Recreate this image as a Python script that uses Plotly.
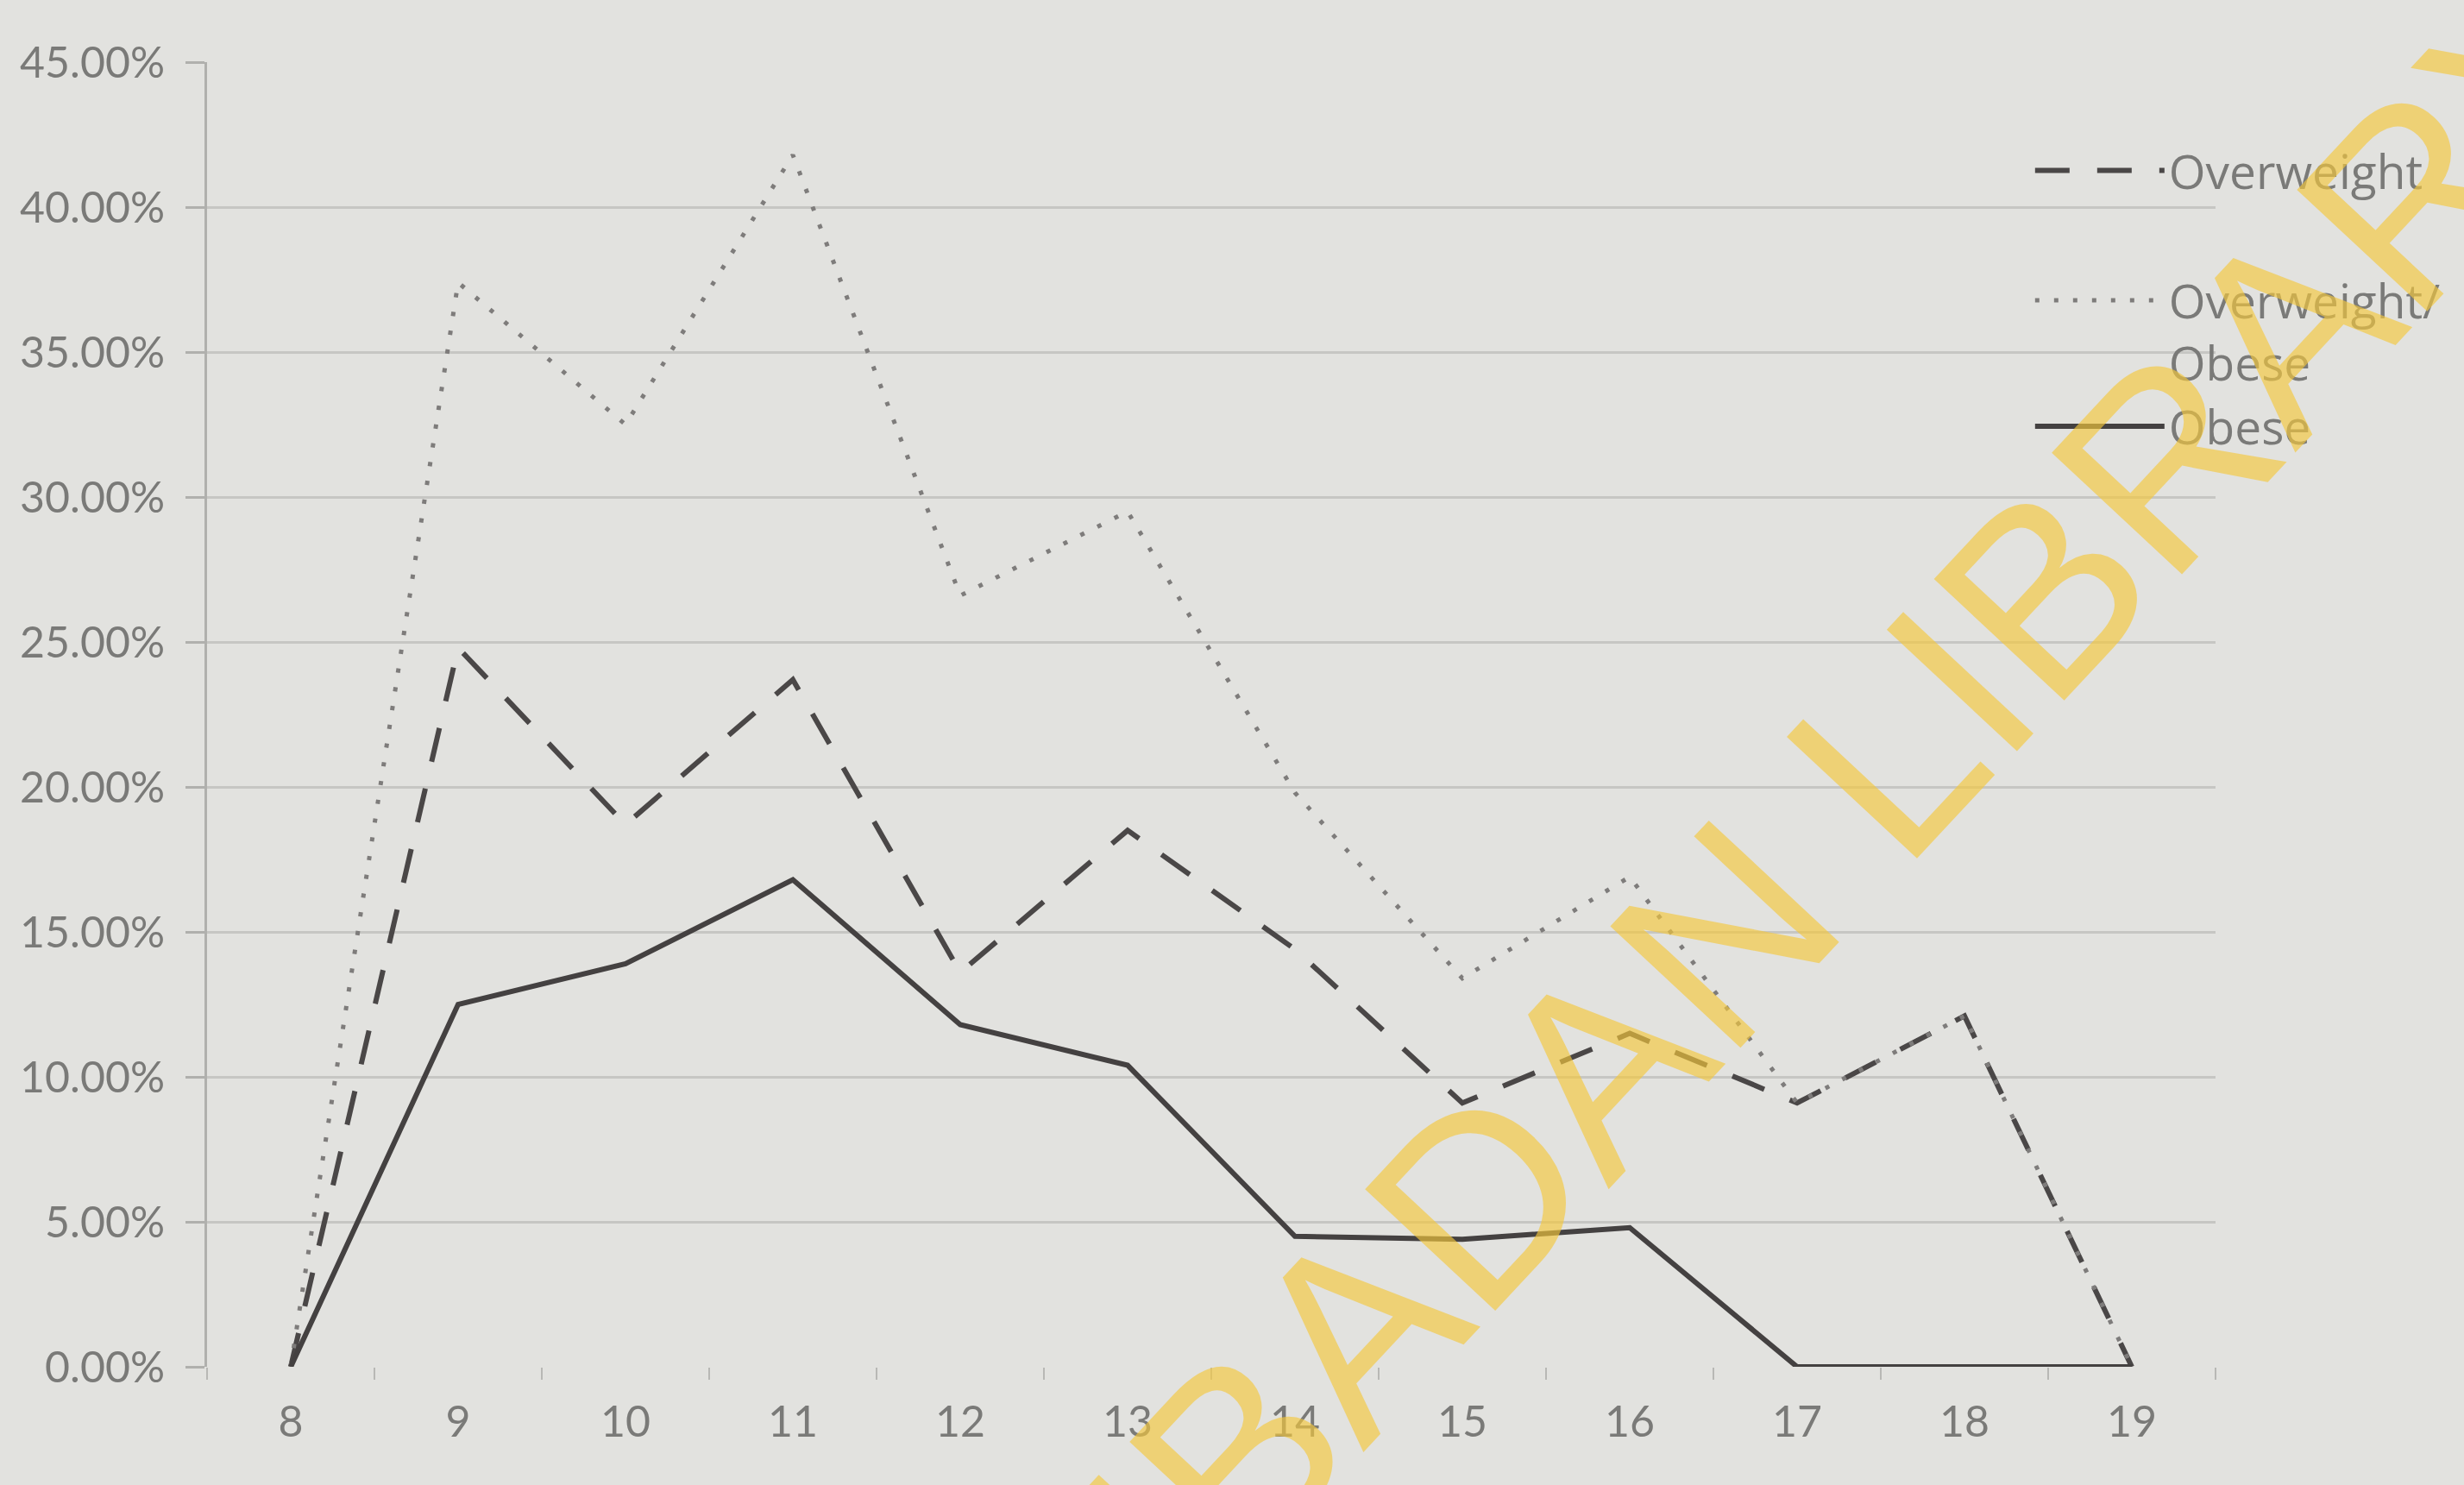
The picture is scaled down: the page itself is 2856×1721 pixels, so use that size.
import plotly.graph_objects as go

ages = [8, 9, 10, 11, 12, 13, 14, 15, 16, 17, 18, 19]
overweight = [0.0, 24.8, 18.7, 23.7, 13.6, 18.5, 14.4, 9.1, 11.5, 9.1, 12.1, 0.0]
overweight_obese = [0.0, 37.4, 32.5, 41.8, 26.6, 29.5, 19.8, 13.4, 16.9, 9.1, 12.1, 0.0]
obese = [0.0, 12.5, 13.9, 16.8, 11.8, 10.4, 4.5, 4.4, 4.8, 0.0, 0.0, 0.0]
y_ticks = [0, 5, 10, 15, 20, 25, 30, 35, 40, 45]
y_tick_labels = ["0.00%", "5.00%", "10.00%", "15.00%", "20.00%", "25.00%",
                 "30.00%", "35.00%", "40.00%", "45.00%"]

FONT = "Lato"
TXT = "#7a7a78"
BG = "#e2e2df"

fig = go.Figure()
fig.add_trace(go.Scatter(
    x=ages, y=overweight, mode="lines", name="Overweight", legendgroup="a",
    line=dict(color="#4a4747", width=6, dash="40px,32px")))
fig.add_trace(go.Scatter(
    x=ages, y=overweight_obese, mode="lines", name="Overweight/<br>Obese", legendgroup="b",
    line=dict(color="#7e7c7b", width=5, dash="5px,17px")))
fig.add_trace(go.Scatter(
    x=ages, y=obese, mode="lines", name="Obese", legendgroup="b",
    line=dict(color="#444141", width=6)))

fig.update_layout(
    width=2856, height=1721,
    margin=dict(l=240, r=288, t=72, b=137),
    paper_bgcolor=BG, plot_bgcolor=BG,
    font=dict(family=FONT, size=50, color=TXT),
    showlegend=True,
    legend=dict(x=0.908, y=0.945, xanchor="left", yanchor="top",
                bgcolor="rgba(0,0,0,0)", itemwidth=150, valign="top",
                tracegroupgap=76,
                font=dict(family="Open Sans", size=55, color=TXT)),
)
fig.update_xaxes(
    range=[7.5, 19.5], tickvals=ages, ticktext=[str(a) for a in ages],
    ticks="", showgrid=False, zeroline=False, showline=False,
    ticklabelstandoff=30,
    minor=dict(tickmode="linear", tick0=7.5, dtick=1, ticks="outside",
               ticklen=14, tickwidth=2, tickcolor="#b8b8b5", showgrid=False),
)
fig.update_yaxes(
    range=[0, 45], tickvals=y_ticks, ticktext=y_tick_labels,
    showgrid=True, gridcolor="#c6c6c3", gridwidth=3,
    zeroline=False, showline=True, linecolor="#b0b0ad", linewidth=3,
    ticks="outside", ticklen=22, tickwidth=3, tickcolor="#b0b0ad",
    ticklabelstandoff=14,
)

fig.add_annotation(
    text="IBADAN LIBRARY", xref="paper", yref="paper",
    x=0.823, y=0.444, xanchor="center", yanchor="middle",
    textangle=-47, showarrow=False,
    font=dict(family="Liberation Sans", size=300, color="rgba(245,200,60,0.65)"),
)

fig.write_html("out.html")
